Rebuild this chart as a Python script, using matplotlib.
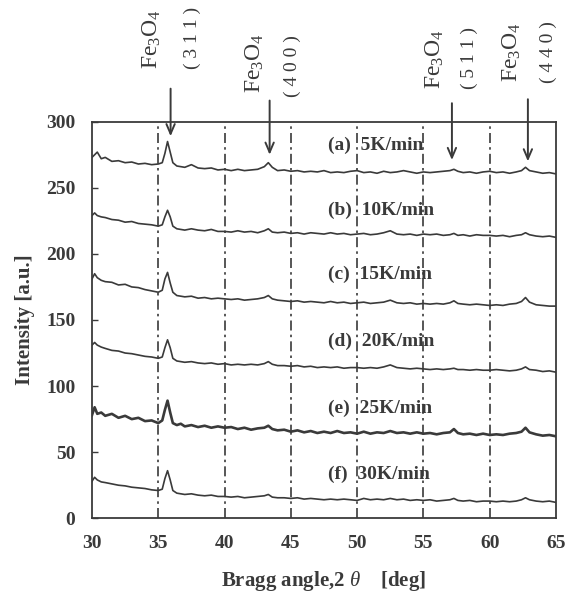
import matplotlib
matplotlib.use("Agg")
import matplotlib.pyplot as plt

plt.rcParams["font.family"] = ["Liberation Serif", "DejaVu Serif"]
plt.rcParams["mathtext.fontset"] = "custom"
plt.rcParams["mathtext.rm"] = "Liberation Serif"
plt.rcParams["mathtext.it"] = "Liberation Serif:italic"
plt.rcParams["mathtext.default"] = "regular"

# diffraction angle (deg), shared by all scans
two_theta = [
    30.0, 30.2, 30.4, 30.7, 31.0, 31.5, 32.0, 32.5, 33.0, 33.5, 34.0, 34.5,
    35.0, 35.3, 35.5, 35.7, 35.9, 36.1, 36.4, 36.7,
    37.0, 37.5, 38.0, 38.5, 39.0, 39.5, 40.0, 40.5, 41.0, 41.5, 42.0, 42.5, 43.0,
    43.3, 43.6,
    44.0, 44.5, 45.0, 45.5, 46.0, 46.5, 47.0, 47.5, 48.0, 48.5, 49.0, 49.5, 50.0,
    50.5, 51.0, 51.5, 52.0, 52.5, 53.0, 53.5, 54.0, 54.5, 55.0, 55.5, 56.0, 56.5, 57.0,
    57.3, 57.6,
    58.0, 58.5, 59.0, 59.5, 60.0, 60.5, 61.0, 61.5, 62.0,
    62.4, 62.7,
    63.0, 63.5, 64.0, 64.5, 65.0,
]

int_5k = [
    273, 275, 277, 272, 273, 270, 270.5, 269, 269.5, 268, 268.5, 267.5,
    268, 269, 276, 285, 277, 269, 266.5, 266,
    265.5, 267.5, 265, 264.5, 265, 263.5, 264, 263, 264, 263, 263.5, 264, 266,
    269, 265.5,
    263, 263.5, 262.5, 263, 262, 262.5, 262, 263, 261.5, 262, 261.5, 262.5, 263,
    261.5, 262, 261, 262.5, 261.5, 262, 263, 262, 261, 262, 261.5, 262, 262.5, 263,
    264, 262.5,
    261.5, 262, 261, 262, 262.5, 261.5, 262, 261, 262,
    263, 265.5,
    263, 262, 261, 261.5, 260.5,
]
int_10k = [
    229, 231, 229, 228, 227.5, 226, 225.5, 224, 224.5, 223, 222.5, 222,
    221, 222, 228, 233, 228, 221, 219, 218.5,
    218, 219, 218, 217.5, 218.5, 217, 217, 216.5, 217.5, 216.5, 217, 216, 217.5,
    219, 216.5,
    216, 216.5, 215.5, 216, 215, 216, 215.5, 215, 216, 215, 215.5, 214.5, 215,
    215.5, 214.5, 215, 216, 217.5, 215, 214.5, 215, 214, 215, 214.5, 215, 214, 214.5,
    215.5, 214,
    214.5, 213.5, 214.5, 214, 214, 213.5, 214, 213, 214,
    214.5, 216,
    214.5, 213.5, 213, 213.5, 212.5,
]
int_15k = [
    181, 185, 182, 180, 179, 178.5, 176.5, 177, 175, 174.5, 173, 172,
    171, 172.5, 181, 186, 178, 171, 168.5, 168,
    167.5, 168, 166.5, 167, 166, 166.5, 166, 165.5, 166, 165, 165.5, 166, 167,
    168.5, 166,
    165, 164.5, 164, 164.5, 163.5, 164, 163.5, 163, 164, 163, 163.5, 162.5, 163,
    163.5, 162.5, 163, 163.5, 165, 163, 162.5, 163, 162, 162.5, 162, 162.5, 162, 163,
    164.5, 162.5,
    162, 161.5, 162, 161.5, 161, 161.5, 161, 162, 162.5,
    164, 167,
    163.5, 161.5, 161, 160.5, 160.5,
]
int_20k = [
    131, 133, 131, 129.5, 128.5, 127, 126.5, 125, 124.5, 123.5, 122.5, 122,
    121, 122, 129, 135, 129, 121, 119, 118.5,
    118, 118.5, 117.5, 117, 117.5, 116.5, 117, 116, 116.5, 116, 116.5, 116, 117,
    118.5, 116.5,
    115.5, 115.5, 115, 115.5, 114.5, 115, 114, 114.5, 114, 114.5, 113.5, 114, 114,
    113.5, 114, 113.5, 114.5, 116, 114, 113.5, 113, 113.5, 113, 112.5, 113, 112.5, 113,
    113.5, 112.5,
    112.5, 112, 112.5, 112, 112, 112.5, 112, 111.5, 112,
    113, 114.5,
    112.5, 112, 111, 111.5, 110.5,
]
int_25k = [
    78, 84, 79, 80, 77.5, 79, 76, 77.5, 75, 76, 73.5, 74,
    72, 74, 82, 89, 80, 72, 70.5, 71.5,
    69.5, 70.5, 69, 70, 68.5, 69.5, 68.5, 69, 67.5, 68.5, 67, 68, 68.5,
    70, 67.5,
    66.5, 67, 65.5, 66.5, 65, 66, 64.5, 65.5, 64.5, 66, 64.5, 65, 64,
    65.5, 64, 65, 64.5, 66, 64.5, 65, 64, 65, 64, 64.5, 63.5, 64.5, 65,
    67.5, 64.5,
    63.5, 64, 63, 64, 63, 63.5, 63, 64, 64.5,
    65.5, 68.5,
    65, 63.5, 62.5, 63, 62,
]
int_30k = [
    28, 31, 29, 27.5, 27, 26, 25, 24.5, 23.5, 23, 22.5, 21.5,
    21, 22, 30, 36, 29, 21, 19, 18.5,
    18, 18.5, 17.5, 17, 17.5, 16.5, 16.5, 16, 16.5, 15.5, 16, 16.5, 17,
    18, 16,
    15.5, 15.5, 15, 15.5, 14.5, 15, 14.5, 14, 14.5, 14, 14.5, 14, 13.5,
    15, 14, 14.5, 14, 15, 14, 14.5, 13.5, 14, 13.5, 14, 13, 13.5, 14,
    15, 13.5,
    13, 13.5, 12.5, 13, 13, 12.5, 13, 12.5, 13,
    14, 15.5,
    14, 13, 12.5, 13, 12,
]

scans = [int_5k, int_10k, int_15k, int_20k, int_25k, int_30k]
scan_labels = ["(a)  5K/min", "(b)  10K/min", "(c)  15K/min",
               "(d)  20K/min", "(e)  25K/min", "(f)  30K/min"]
label_y = [282, 233, 184.5, 133.5, 83.5, 33]

# Fe3O4 reflections: arrow position and top/bottom of the arrows
peak_names = ["( 3 1 1 )", "( 4 0 0 )", "( 5 1 1 )", "( 4 4 0 )"]
peak_pos = [35.93, 43.4, 57.15, 62.88]
arrow_top = [325, 316, 314, 317]
arrow_tip = [289, 275, 271, 270]
fe_x = [34.5, 42.3, 55.87, 61.65]
fe_bottom = [340, 322, 325, 330]
hkl_x = [37.55, 45.1, 58.5, 64.4]
hkl_bottom = [340, 319, 325, 329]

ink = "#3a3a3a"

fig = plt.figure(figsize=(5.77, 5.94), dpi=100)
ax = fig.add_axes([0.1594, 0.1275, 0.8042, 0.6676])

for xg in [35, 40, 45, 50, 55, 60]:
    ax.axvline(xg, color=ink, lw=1.2, linestyle=(0, (6, 2.5, 1.5, 2.5)), zorder=1)

for i, y in enumerate(scans):
    lw = 1.9 if i == 4 else 1.2
    ax.plot(two_theta, y, color=ink, lw=lw, zorder=2)

for lab, ly in zip(scan_labels, label_y):
    ax.text(47.8, ly, lab, fontsize=14, fontweight="bold", color=ink,
            ha="left", va="center", zorder=3)

for i in range(len(peak_pos)):
    ax.annotate("", xy=(peak_pos[i], arrow_tip[i]), xytext=(peak_pos[i], arrow_top[i]),
                annotation_clip=False,
                arrowprops=dict(arrowstyle="->,head_length=0.7,head_width=0.3",
                                color=ink, lw=1.4, shrinkA=0, shrinkB=0))
    ax.text(fe_x[i], fe_bottom[i], "Fe$_3$O$_4$", rotation=90, fontsize=17,
            color=ink, ha="center", va="bottom", clip_on=False)
    ax.text(hkl_x[i], hkl_bottom[i], peak_names[i], rotation=90, fontsize=14,
            color=ink, ha="center", va="bottom", clip_on=False)

ax.set_xlim(30, 65)
ax.set_ylim(0, 300)
ax.set_xticks([30, 35, 40, 45, 50, 55, 60, 65])
ax.set_yticks([0, 50, 100, 150, 200, 250, 300])
ax.tick_params(axis="both", direction="in", length=4, width=1, color=ink,
               labelsize=14, labelcolor=ink)
ax.tick_params(axis="x", length=0, pad=12)
ax.tick_params(axis="y", pad=12)
for t in ax.get_xticklabels() + ax.get_yticklabels():
    t.set_fontweight("bold")
for s in ax.spines.values():
    s.set_color(ink)
    s.set_linewidth(1.3)

ax.set_xlabel(r"Bragg angle,2 $\mathit{\theta}$    [deg]", fontsize=15,
              fontweight="bold", color=ink, labelpad=12)
ax.set_ylabel("Intensity [a.u.]", fontsize=15, fontweight="bold", color=ink,
              labelpad=8)

fig.savefig("out.png", dpi=100)
